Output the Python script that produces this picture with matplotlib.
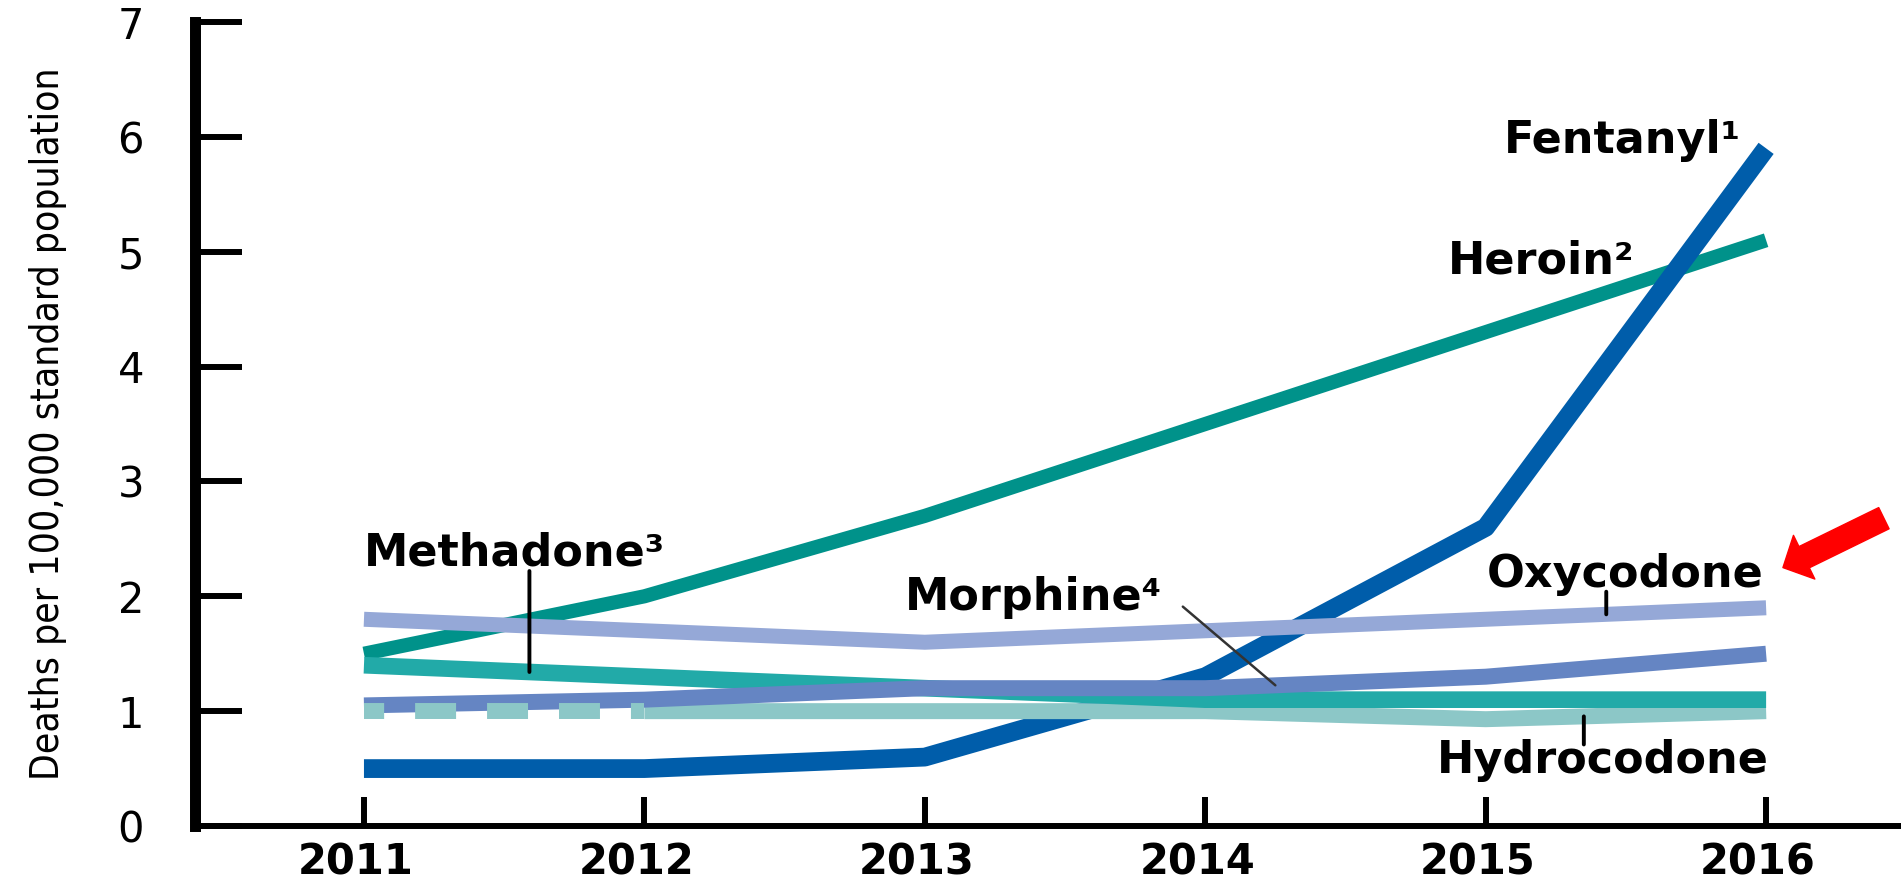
import numpy as np
import matplotlib.pyplot as plt
from matplotlib.transforms import ScaledTranslation

# values (deaths per 100,000)
years = [2011, 2012, 2013, 2014, 2015, 2016]
fentanyl = [0.5, 0.5, 0.6, 1.3, 2.6, 5.9]
heroin = [1.5, 2.0, 2.7, 3.5, 4.3, 5.1]
oxycodone = [1.8, 1.7, 1.6, 1.7, 1.8, 1.9]
methadone = [1.4, 1.3, 1.2, 1.1, 1.1, 1.1]
morphine = [1.05, 1.1, 1.2, 1.2, 1.3, 1.5]
hydrocodone = [1.0, 1.0, 1.0, 1.0, 0.93, 1.0]
y_ticks = [0, 1, 2, 3, 4, 5, 6, 7]
y_label = "Deaths per 100,000 standard population"

plt.rcParams['font.family'] = ['DejaVu Sans']
plt.rcParams['lines.scale_dashes'] = False

fig = plt.figure(figsize=(19.01, 8.84), dpi=100)
ax = fig.add_axes([0.1028, 0.0656, 0.8972, 0.9095])

line_kw = dict(solid_capstyle='butt', solid_joinstyle='round')

# drawing order matters, the lines overlap a lot
ax.plot(years, heroin, color='#00928A', lw=10.2, **line_kw)
ax.plot(years, fentanyl, color='#005DAA', lw=13.5, **line_kw)
ax.plot(years[1:], hydrocodone[1:], color='#8CC7C7', lw=11.5, **line_kw)
ax.plot(years, methadone, color='#22AAA8', lw=12, **line_kw)
ax.plot(years, morphine, color='#6585C3', lw=11.5, **line_kw)
ax.plot(years[:2], hydrocodone[:2], color='#8CC7C7', lw=11.5,
        linestyle=(15, (29.5, 22.3)), dash_capstyle='butt')
ax.plot(years, oxycodone, color='#95A8D7', lw=10.8, **line_kw)

ax.set_xlim(2010.399, 2016.481)
ax.set_ylim(0, 7)
ax.set_xticks(years)
ax.set_yticks(y_ticks)
ax.tick_params(axis='y', direction='in', length=33.5, width=4.3, pad=37, labelsize=30)
ax.tick_params(axis='x', direction='in', length=21, width=4.3, pad=11, labelsize=30)
shift = ScaledTranslation(-8 / 100, 0, fig.dpi_scale_trans)
for lbl in ax.get_xticklabels():
    lbl.set_fontweight('bold')
    lbl.set_transform(lbl.get_transform() + shift)

for s in ['top', 'right']:
    ax.spines[s].set_visible(False)
ax.spines['left'].set_linewidth(7.9)
ax.spines['bottom'].set_linewidth(4.3)

ax.set_ylabel(y_label, family=['DejaVu Sans'], fontstretch='condensed',
              fontsize=28, va='center')
ax.yaxis.set_label_coords(-0.0865, 0.5)

# series labels
lab_kw = dict(fontsize=32, fontweight='bold', va='baseline')
ax.text(2015.91, 5.86, "Fentanyl¹", ha='right', **lab_kw)
ax.text(2015.53, 4.81, "Heroin²", ha='right', **lab_kw)
ax.text(2011.0, 2.27, "Methadone³", ha='left', **lab_kw)
ax.text(2012.93, 1.88, "Morphine⁴", ha='left', **lab_kw)
ax.text(2015.99, 2.08, "Oxycodone", ha='right', **lab_kw)
ax.text(2016.01, 0.46, "Hydrocodone", ha='right', **lab_kw)


def leader(x0, y0, x1, series, lw=2.8, color='black'):
    y1 = np.interp(x1, years, series)
    ax.annotate('', xy=(x1, y1), xytext=(x0, y0),
                arrowprops=dict(arrowstyle='-', lw=lw, color=color,
                                shrinkA=0, shrinkB=0))


leader(2011.59, 2.22, 2011.59, methadone)
leader(2015.43, 2.04, 2015.43, oxycodone)
leader(2015.35, 0.71, 2015.35, hydrocodone)
leader(2013.92, 1.91, 2014.25, morphine, lw=1.8, color='#333333')

# red pointer next to Oxycodone
ax.annotate('', xy=(2016.06, 2.25), xytext=(2016.42, 2.68),
            arrowprops=dict(arrowstyle='simple,head_length=0.85,head_width=1.75,tail_width=0.85',
                            mutation_scale=20, color='#FF0000', lw=1,
                            shrinkA=0, shrinkB=0, joinstyle='round'),
            annotation_clip=False)

fig.savefig('out.png', dpi=100)
